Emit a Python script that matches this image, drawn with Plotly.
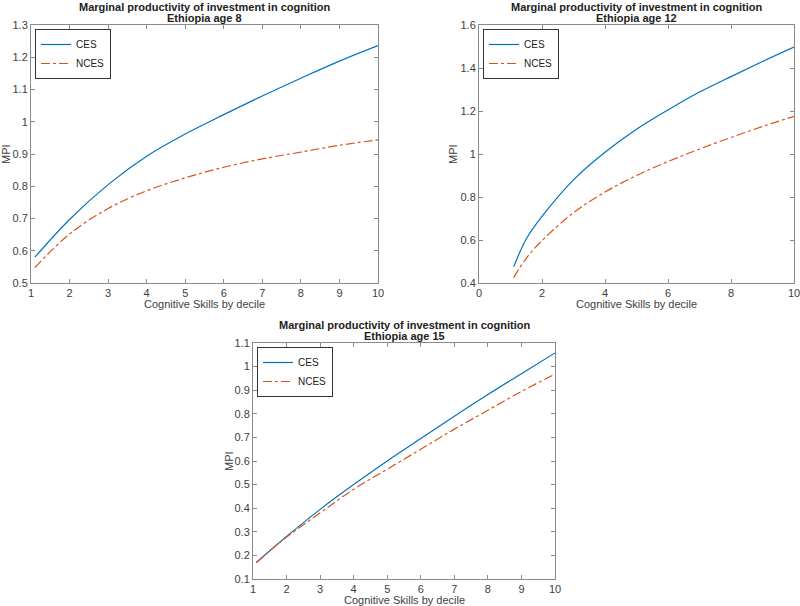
import plotly.graph_objects as go

# ---- data ----
x8 = [1.1, 2, 3, 4, 5, 6, 7, 8, 9, 10]
ces8 = [0.58, 0.697, 0.805, 0.893, 0.962, 1.022, 1.08, 1.135, 1.188, 1.236]
nces8 = [0.548, 0.652, 0.731, 0.786, 0.826, 0.859, 0.885, 0.906, 0.927, 0.944]

x12 = [1.1, 1.5, 2, 3, 4, 5, 6, 7, 8, 9, 10]
ces12 = [0.475, 0.605, 0.71, 0.88, 1.008, 1.115, 1.205, 1.288, 1.36, 1.43, 1.497]
nces12 = [0.425, 0.515, 0.597, 0.727, 0.823, 0.9, 0.965, 1.023, 1.077, 1.128, 1.175]

x15 = [1.1, 2, 3, 4, 5, 6, 7, 8, 9, 10]
ces15 = [0.17, 0.28, 0.395, 0.5, 0.6, 0.695, 0.79, 0.882, 0.97, 1.058]
nces15 = [0.17, 0.278, 0.38, 0.48, 0.565, 0.65, 0.735, 0.815, 0.895, 0.968]

title_main = "Marginal productivity of investment in cognition"
subtitles = ["Ethiopia age 8", "Ethiopia age 12", "Ethiopia age 15"]
xlabel = "Cognitive Skills by decile"
ylabel = "MPI"

BLUE = "#0072BD"
ORANGE = "#D95319"
W, H = 800, 606
FONT = "Liberation Sans, Arial, Helvetica, sans-serif"
TXT = "#404040"

fig = go.Figure()

panels = [
    dict(x=x8, ces=ces8, nces=nces8, xr=[1, 10], yr=[0.5, 1.3], xd=(31, 378), yd=(25, 283),
         xt=list(range(1, 11)), yt=[0.5 + 0.1 * i for i in range(9)], ylab_x=6, xl_off=21),
    dict(x=x12, ces=ces12, nces=nces12, xr=[0, 10], yr=[0.4, 1.6], xd=(479, 794), yd=(25, 283),
         xt=[0, 2, 4, 6, 8, 10], yt=[0.4, 0.6, 0.8, 1.0, 1.2, 1.4, 1.6], ylab_x=453, xl_off=21),
    dict(x=x15, ces=ces15, nces=nces15, xr=[1, 10], yr=[0.1, 1.1], xd=(253, 555), yd=(343, 579),
         xt=list(range(1, 11)), yt=[0.1 + 0.1 * i for i in range(11)], ylab_x=229, xl_off=21),
]

annotations = []
for i, p in enumerate(panels):
    n = "" if i == 0 else str(i + 1)
    xa, ya = "x" + n, "y" + n
    leg = "legend" + n
    fig.add_trace(go.Scatter(x=p["x"], y=p["ces"], mode="lines", name="CES",
                             line=dict(color=BLUE, width=1.2, shape="spline"),
                             xaxis=xa, yaxis=ya, legend=leg))
    fig.add_trace(go.Scatter(x=p["x"], y=p["nces"], mode="lines", name="NCES",
                             line=dict(color=ORANGE, width=1.2, dash="dashdot", shape="spline"),
                             xaxis=xa, yaxis=ya, legend=leg))
    x0, x1 = p["xd"]
    y0, y1 = p["yd"]
    axcommon = dict(showline=True, linecolor="#8a8a8a", linewidth=1, mirror="allticks",
                    ticks="inside", ticklen=4, tickcolor="#8a8a8a", showgrid=False,
                    zeroline=False, automargin=False, ticklabeloverflow="allow",
                    tickfont=dict(family=FONT, size=11, color=TXT))
    fig.update_layout(**{
        "xaxis" + n: dict(domain=[x0 / W, x1 / W], range=p["xr"], tickvals=p["xt"],
                          anchor=ya, **axcommon),
        "yaxis" + n: dict(domain=[1 - y1 / H, 1 - y0 / H], range=p["yr"],
                          tickvals=[round(v, 2) for v in p["yt"]], anchor=xa, **axcommon),
        leg: dict(x=(x0 + 4) / W, y=1 - (y0 + 4) / H, xanchor="left", yanchor="top",
                  bgcolor="white", bordercolor="#333333", borderwidth=1,
                  font=dict(family=FONT, size=10, color="#222222"),
                  itemwidth=30, tracegroupgap=0),
    })
    cx = (x0 + x1) / 2 / W
    for line_txt, off in ((title_main, 18), (subtitles[i], 7)):
        annotations.append(dict(x=cx, y=1 - (y0 - off) / H, xref="paper", yref="paper",
                                xanchor="center", yanchor="middle", showarrow=False,
                                text="<b>" + line_txt + "</b>",
                                font=dict(family=FONT, size=11, color="#222222")))
    annotations.append(dict(x=cx, y=1 - (y1 + p["xl_off"]) / H, xref="paper", yref="paper",
                            xanchor="center", yanchor="middle", showarrow=False,
                            text=xlabel, font=dict(family=FONT, size=11, color=TXT)))
    annotations.append(dict(x=p["ylab_x"] / W, y=1 - (y0 + y1) / 2 / H, xref="paper", yref="paper",
                            xanchor="center", yanchor="middle", showarrow=False, textangle=-90,
                            text=ylabel, font=dict(family=FONT, size=11, color=TXT)))

fig.update_layout(width=W, height=H, margin=dict(l=0, r=0, t=0, b=0, autoexpand=False),
                  paper_bgcolor="white", plot_bgcolor="white",
                  annotations=annotations, showlegend=True)

fig.write_html("out.html", config={"displayModeBar": False},
               post_script="document.body.style.margin='0';document.body.style.padding='0';")
